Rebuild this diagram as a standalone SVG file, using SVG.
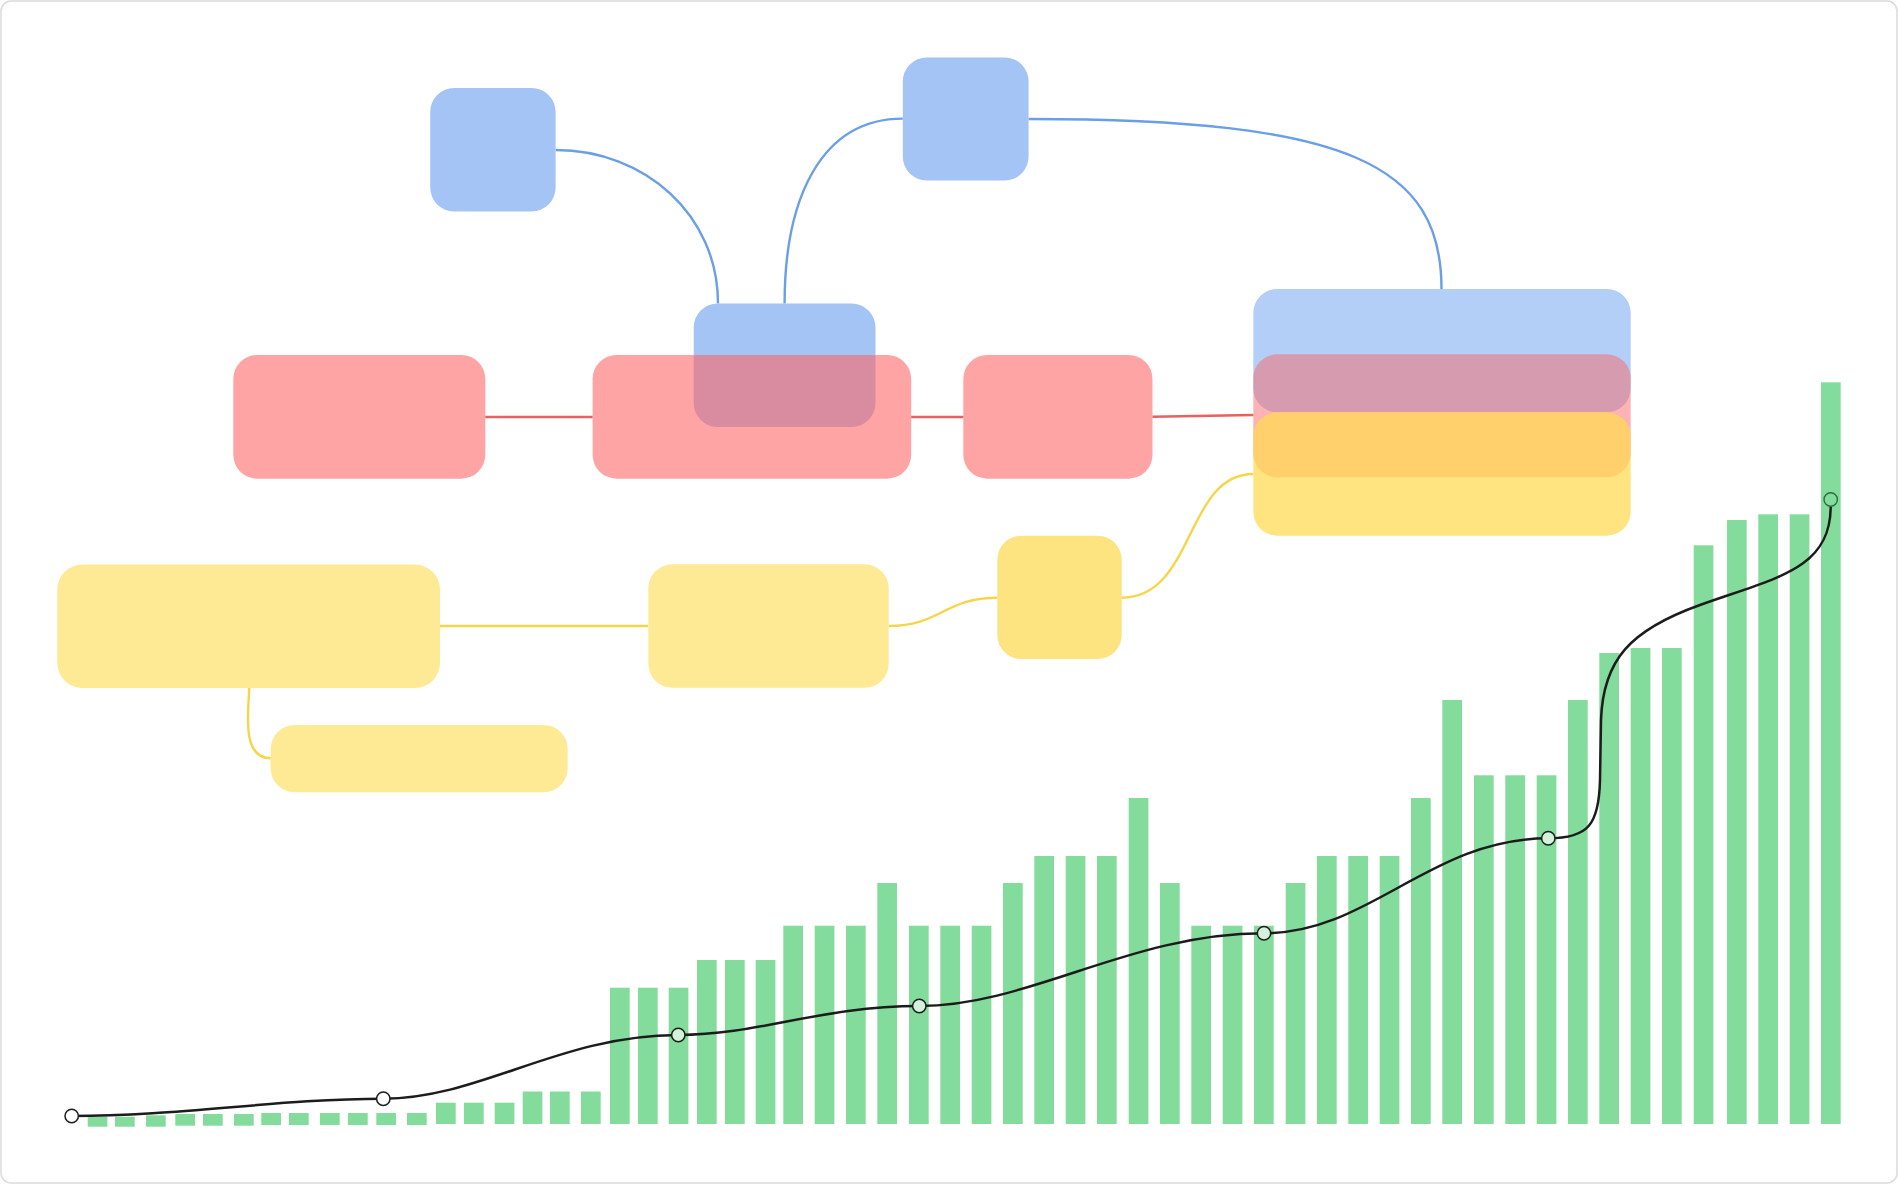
<svg xmlns="http://www.w3.org/2000/svg" width="1898" height="1184" viewBox="0 0 1898 1184">
<style>
.blue{fill:#a4c4f6}
.red{fill:#ff6262;fill-opacity:0.58}
.yel{fill:#feea94}
.yel2{fill:#fee480}
.c-blue{fill:none;stroke:#6a9fe8;stroke-width:2.4}
.c-red{fill:none;stroke:#e8605f;stroke-width:2.4}
.c-yel{fill:none;stroke:#f7d54a;stroke-width:2.4}
.bar{fill:#84dc9c}
.pt{stroke:#1c1c1c;stroke-width:1.5}
</style>
<rect x="1" y="1" width="1896" height="1182" rx="10" fill="#ffffff" stroke="#dadada" stroke-width="1.5"/>

<g id="chart">
<g id="bars">
<rect class="bar" x="87.7" y="1116.7" width="19.7" height="10"/>
<rect class="bar" x="115" y="1116.7" width="19.7" height="10"/>
<rect class="bar" x="146" y="1115.3" width="19.7" height="11.4"/>
<rect class="bar" x="175.3" y="1114" width="19.7" height="11.7"/>
<rect class="bar" x="203" y="1114" width="19.7" height="11.7"/>
<rect class="bar" x="234" y="1114" width="19.7" height="11.7"/>
<rect class="bar" x="261.3" y="1113" width="19.7" height="12"/>
<rect class="bar" x="289" y="1113" width="19.7" height="12"/>
<rect class="bar" x="320" y="1113" width="19.7" height="12"/>
<rect class="bar" x="348" y="1113" width="19.7" height="12"/>
<rect class="bar" x="376.3" y="1113" width="19.7" height="12"/>
<rect class="bar" x="407" y="1113" width="19.7" height="12"/>
<rect class="bar" x="436" y="1102.7" width="19.7" height="21.3"/>
<rect class="bar" x="464" y="1102.7" width="19.7" height="21.3"/>
<rect class="bar" x="494.7" y="1102.7" width="19.7" height="21.3"/>
<rect class="bar" x="522.7" y="1091.5" width="19.7" height="32.5"/>
<rect class="bar" x="550" y="1091.5" width="19.7" height="32.5"/>
<rect class="bar" x="581" y="1091.5" width="19.7" height="32.5"/>
<rect class="bar" x="610" y="987.7" width="19.7" height="136.3"/>
<rect class="bar" x="638" y="987.7" width="19.7" height="136.3"/>
<rect class="bar" x="668.7" y="987.7" width="19.7" height="136.3"/>
<rect class="bar" x="697" y="960" width="19.7" height="164"/>
<rect class="bar" x="725" y="960" width="19.7" height="164"/>
<rect class="bar" x="755.7" y="960" width="19.7" height="164"/>
<rect class="bar" x="783.3" y="925.7" width="19.7" height="198.3"/>
<rect class="bar" x="814.7" y="925.7" width="19.7" height="198.3"/>
<rect class="bar" x="846" y="925.7" width="19.7" height="198.3"/>
<rect class="bar" x="877.3" y="883" width="19.7" height="241"/>
<rect class="bar" x="909" y="925.7" width="19.7" height="198.3"/>
<rect class="bar" x="940.3" y="925.7" width="19.7" height="198.3"/>
<rect class="bar" x="971.7" y="925.7" width="19.7" height="198.3"/>
<rect class="bar" x="1003" y="883" width="19.7" height="241"/>
<rect class="bar" x="1034.3" y="856" width="19.7" height="268"/>
<rect class="bar" x="1065.7" y="856" width="19.7" height="268"/>
<rect class="bar" x="1097" y="856" width="19.7" height="268"/>
<rect class="bar" x="1128.7" y="798" width="19.7" height="326"/>
<rect class="bar" x="1160" y="883" width="19.7" height="241"/>
<rect class="bar" x="1191.3" y="925.7" width="19.7" height="198.3"/>
<rect class="bar" x="1222.7" y="925.7" width="19.7" height="198.3"/>
<rect class="bar" x="1254" y="925.7" width="19.7" height="198.3"/>
<rect class="bar" x="1285.7" y="883" width="19.7" height="241"/>
<rect class="bar" x="1317" y="856" width="19.7" height="268"/>
<rect class="bar" x="1348.3" y="856" width="19.7" height="268"/>
<rect class="bar" x="1379.7" y="856" width="19.7" height="268"/>
<rect class="bar" x="1411" y="798" width="19.7" height="326"/>
<rect class="bar" x="1442.3" y="700" width="19.7" height="424"/>
<rect class="bar" x="1474" y="775.3" width="19.7" height="348.7"/>
<rect class="bar" x="1505.3" y="775.3" width="19.7" height="348.7"/>
<rect class="bar" x="1536.7" y="775.3" width="19.7" height="348.7"/>
<rect class="bar" x="1568" y="700" width="19.7" height="424"/>
<rect class="bar" x="1599.3" y="653" width="19.7" height="471"/>
<rect class="bar" x="1630.7" y="648" width="19.7" height="476"/>
<rect class="bar" x="1662" y="648" width="19.7" height="476"/>
<rect class="bar" x="1693.7" y="545.3" width="19.7" height="578.7"/>
<rect class="bar" x="1727" y="520" width="19.7" height="604"/>
<rect class="bar" x="1758.3" y="514.3" width="19.7" height="609.7"/>
<rect class="bar" x="1789.7" y="514.3" width="19.7" height="609.7"/>
<rect class="bar" x="1821" y="382.3" width="19.7" height="741.7"/>
</g>
<path id="trend" fill="none" stroke="#1c1c1c" stroke-width="2.5" d="M71.7,1116 C180,1116 280,1098.7 383.3,1098.7 C480,1098.7 560,1035 678.3,1035 C760,1035 820,1006 919.3,1006 C1030,1006 1130,933.3 1264,933.3 C1370,933.3 1430,838.3 1548.3,838.3 C1588,838.3 1599,825 1600,780 L1601,720 C1603,660 1630,630 1700,605 C1775,578 1830.7,570 1830.7,506.5"/>
<g id="points">
<circle class="pt" cx="71.7" cy="1116" r="6.7" fill="#ffffff"/>
<circle class="pt" cx="383.3" cy="1098.7" r="6.7" fill="#ffffff"/>
<circle class="pt" cx="678.3" cy="1035" r="6.7" fill="#d4f1dc"/>
<circle class="pt" cx="919.3" cy="1006" r="6.7" fill="#d4f1dc"/>
<circle class="pt" cx="1264" cy="933.3" r="6.7" fill="#d4f1dc"/>
<circle class="pt" cx="1548.3" cy="838.3" r="6.7" fill="#d4f1dc"/>
<circle cx="1830.7" cy="499.5" r="6.7" fill="#84dc9c" stroke="#2d6b40" stroke-width="1.4"/>
</g>
</g>

<g id="connectors">
<path class="c-blue" d="M555.6,150 C645,150 718,215 718,303.4"/>
<path class="c-blue" d="M902.8,118.6 C820,118.6 784.6,200 784.6,303.4"/>
<path class="c-blue" d="M1028.6,119 C1350,119 1441.5,165 1441.5,289"/>
<path class="c-red" d="M485.3,417 L592.6,417"/>
<path class="c-red" d="M911.2,417 L963.3,417"/>
<path class="c-red" d="M1152.5,416.7 L1253.3,415"/>
<path class="c-yel" d="M440,626 L648.3,626"/>
<path class="c-yel" d="M888.7,626 C940,626 945,597.7 997.3,597.7"/>
<path class="c-yel" d="M1121.7,597.7 C1195,597.7 1185,474 1253.3,474"/>
<path class="c-yel" d="M249.3,688 C248,715 242,758.3 270.7,758.3"/>
</g>

<g id="node-b1"><rect class="blue" x="430.2" y="88" width="125.4" height="123.6" rx="24"/></g>
<g id="node-b2"><rect class="blue" x="902.8" y="57.4" width="125.8" height="123.2" rx="24"/></g>
<g id="node-b3"><rect class="blue" x="693.7" y="303.4" width="181.8" height="123.6" rx="24"/></g>
<g id="node-r1"><rect class="red" x="233.3" y="355" width="252" height="123.7" rx="24"/></g>
<g id="node-r2"><rect class="red" x="592.6" y="355" width="318.6" height="123.7" rx="24"/></g>
<g id="node-r3"><rect class="red" x="963.3" y="355" width="189.2" height="123.7" rx="24"/></g>
<g id="node-stack">
<rect x="1253.3" y="289" width="377.4" height="123.3" rx="24" fill="#b3cef7"/>
<rect x="1253.3" y="354.3" width="377.4" height="123" rx="24" fill="#fb6767" fill-opacity="0.5"/>
<rect x="1253.3" y="412.3" width="377.4" height="123.4" rx="24" fill="#ffda53" fill-opacity="0.74"/>
</g>
<g id="node-y1"><rect class="yel" x="57.3" y="564.5" width="382.7" height="123.5" rx="25"/></g>
<g id="node-y2"><rect class="yel" x="648.3" y="564.3" width="240.4" height="123.5" rx="24"/></g>
<g id="node-y3"><rect class="yel2" x="997.3" y="535.7" width="124.4" height="123.3" rx="24"/></g>
<g id="node-y4"><rect class="yel" x="270.7" y="725" width="297" height="67.3" rx="24"/></g>
</svg>
